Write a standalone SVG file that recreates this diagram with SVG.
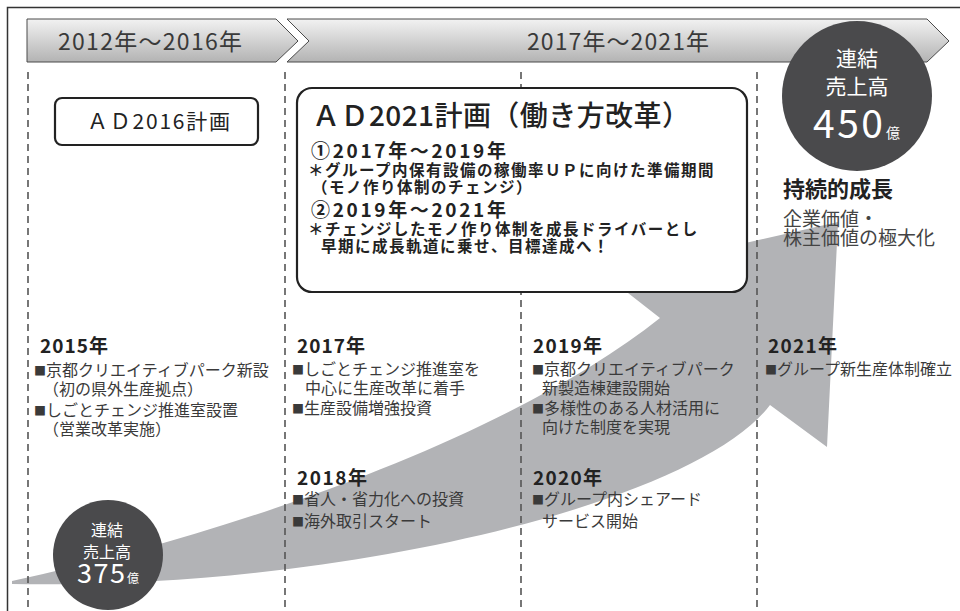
<svg xmlns="http://www.w3.org/2000/svg" width="960" height="611" viewBox="0 0 960 611">
<defs>
<linearGradient id="bannerGrad" x1="0" y1="0" x2="0" y2="1">
<stop offset="0" stop-color="#f2f2f2"/>
<stop offset="1" stop-color="#b3b3b3"/>
</linearGradient>
<style>
text{font-family:"Noto Sans CJK JP","Noto Sans",sans-serif;}
.banner{fill:url(#bannerGrad);stroke:#4a4a4a;stroke-width:1;}
.bannerText{font-size:23px;fill:#3a3a3a;letter-spacing:1px;}
.dash{stroke:#555;stroke-width:1.6;stroke-dasharray:7 5;fill:none;}
.box{fill:#fff;stroke:#222;stroke-width:2.2;}
.circle{fill:#4a4a4c;}
.cw{fill:#fff;text-anchor:middle;}
.year{font-size:19px;font-weight:bold;fill:#222;}
.body{font-size:16px;fill:#3a3a3a;}
.bul{font-size:12px;}
.plan{font-size:15.5px;font-weight:bold;fill:#222;letter-spacing:1.5px;}
.sub{font-size:19px;font-weight:bold;fill:#222;}
.arrow{fill:#b2b3b6;}
</style>
</defs>
<rect x="7.5" y="7.5" width="1000" height="700" fill="#fff" stroke="#333" stroke-width="1.5"/>
<g id="header">
<path class="banner" d="M27,19 L276,19 L298,41 L276,62 L27,62 Z"/>
<path class="banner" d="M287,19 L927,19 L949,41 L927,62 L287,62 L309,41 Z"/>
<text class="bannerText" x="58" y="50" textLength="185">2012年〜2016年</text>
<text class="bannerText" x="527" y="50" textLength="183">2017年〜2021年</text>
</g>
<g id="growth-arrow">
<path class="arrow" d="M12,581 C250,530 520,430 660,318 L605,275 L838,222 L827,447 L770,405 C700,500 350,590 12,584 Z"/>
</g>
<g id="connectors">
<line class="dash" x1="28" y1="72" x2="28" y2="611"/>
<line class="dash" x1="285" y1="72" x2="285" y2="611"/>
<line class="dash" x1="521" y1="72" x2="521" y2="611"/>
<line class="dash" x1="757" y1="72" x2="757" y2="611"/>
</g>
<g id="ad2016">
<rect class="box" x="55" y="98" width="203" height="47" rx="7"/>
<text x="87" y="129" font-size="21" fill="#222" textLength="143">ＡＤ2016計画</text>
</g>
<g id="ad2021">
<rect class="box" x="297" y="88" width="450" height="204" rx="15" stroke-width="2.6"/>
<text x="312" y="126" font-size="28" font-weight="500" fill="#222" textLength="378">ＡＤ2021計画（働き方改革）</text>
<text class="sub" x="311" y="158" textLength="195">①2017年～2019年</text>
<text class="plan" x="308" y="176">＊グループ内保有設備の稼働率ＵＰに向けた準備期間</text>
<text class="plan" x="312" y="193">（モノ作り体制のチェンジ）</text>
<text class="sub" x="311" y="217" textLength="195">②2019年～2021年</text>
<text class="plan" x="308" y="235">＊チェンジしたモノ作り体制を成長ドライバーとし</text>
<text class="plan" x="321" y="252">早期に成長軌道に乗せ、目標達成へ！</text>
</g>
<g id="sales-450">
<circle class="circle" cx="857" cy="96" r="75"/>
<text class="cw" x="857" y="66" font-size="21">連結</text>
<text class="cw" x="857" y="94" font-size="21">売上高</text>
<text x="813" y="138" font-size="39" fill="#fff" textLength="70">450</text>
<text x="886" y="138" font-size="14" fill="#fff">億</text>
</g>
<g id="sustain">
<text x="783" y="197" font-size="22" font-weight="bold" fill="#222">持続的成長</text>
<text x="783" y="226" font-size="19" fill="#444">企業価値・</text>
<text x="783" y="245" font-size="19" fill="#444">株主価値の極大化</text>
</g>
<g id="y2015">
<text class="year" x="40" y="353" textLength="68">2015年</text>
<text class="body" x="34" y="376"><tspan class="bul">■</tspan>京都クリエイティブパーク新設</text>
<text class="body" x="43" y="395">（初の県外生産拠点）</text>
<text class="body" x="34" y="416"><tspan class="bul">■</tspan>しごとチェンジ推進室設置</text>
<text class="body" x="43" y="435">（営業改革実施）</text>
</g>
<g id="y2017">
<text class="year" x="297" y="353" textLength="68">2017年</text>
<text class="body" x="292" y="375"><tspan class="bul">■</tspan>しごとチェンジ推進室を</text>
<text class="body" x="305" y="394">中心に生産改革に着手</text>
<text class="body" x="292" y="414"><tspan class="bul">■</tspan>生産設備増強投資</text>
</g>
<g id="y2018">
<text class="year" x="297" y="485" textLength="70">2018年</text>
<text class="body" x="292" y="505"><tspan class="bul">■</tspan>省人・省力化への投資</text>
<text class="body" x="292" y="527"><tspan class="bul">■</tspan>海外取引スタート</text>
</g>
<g id="y2019">
<text class="year" x="533" y="353" textLength="69">2019年</text>
<text class="body" x="532" y="375"><tspan class="bul">■</tspan>京都クリエイティブパーク</text>
<text class="body" x="542" y="394">新製造棟建設開始</text>
<text class="body" x="532" y="414"><tspan class="bul">■</tspan>多様性のある人材活用に</text>
<text class="body" x="542" y="433">向けた制度を実現</text>
</g>
<g id="y2020">
<text class="year" x="533" y="485" textLength="69">2020年</text>
<text class="body" x="532" y="505"><tspan class="bul">■</tspan>グループ内シェアード</text>
<text class="body" x="542" y="527">サービス開始</text>
</g>
<g id="y2021">
<text class="year" x="768" y="353" textLength="69">2021年</text>
<text class="body" x="765" y="375"><tspan class="bul">■</tspan>グループ新生産体制確立</text>
</g>
<g id="sales-375">
<circle class="circle" cx="108" cy="555" r="55"/>
<text class="cw" x="107" y="536" font-size="16">連結</text>
<text class="cw" x="107" y="558" font-size="16">売上高</text>
<text x="77" y="583" font-size="27" fill="#fff" textLength="48">375</text>
<text x="127" y="583" font-size="12" fill="#fff">億</text>
</g>
</svg>
